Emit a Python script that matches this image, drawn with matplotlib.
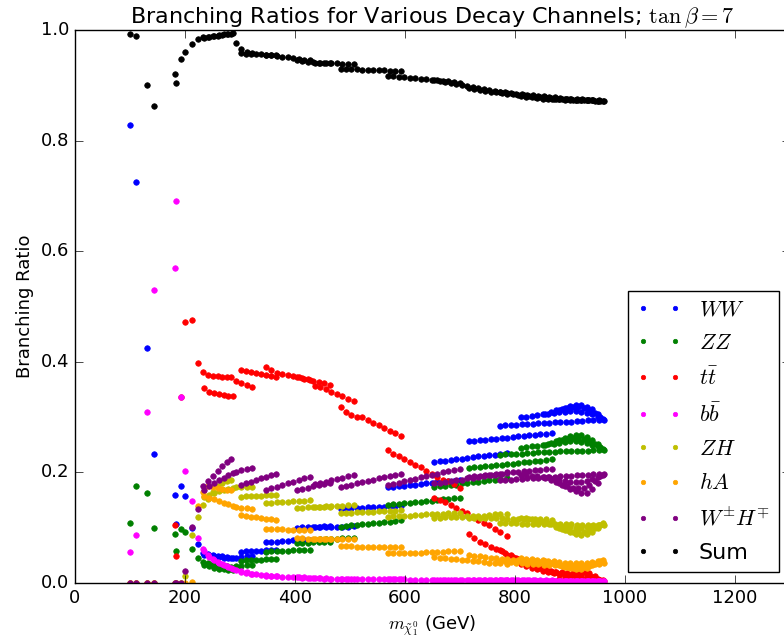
import matplotlib
matplotlib.use('Agg')
import matplotlib.pyplot as plt

# neutralino mass scan, one entry per model point (grouped by scan line)
mass = [100, 110, 131, 144, 182, 183, 192, 200, 213, 224,
        233, 242, 251, 260, 268, 276, 284,
        235, 244, 253, 262, 270, 278, 287,
        292, 302, 312, 322,
        302, 311, 320, 329, 338, 347, 356, 365,
        347, 357, 367, 377, 387, 397, 407, 417, 427,
        403, 413, 423, 433, 443, 453, 463,
        437, 446, 456, 466, 476, 486, 496, 507,
        483, 492, 502, 512, 522, 532, 542, 552, 562, 572, 582, 592,
        569, 579, 589, 599, 609, 619, 629, 639, 649, 659, 669, 679, 689, 700,
        653, 663, 673, 683, 693, 703, 713, 723, 733, 743, 753, 763, 773, 785,
        716, 726, 736, 746, 756, 766, 776, 786, 796, 806, 816, 826, 836, 846, 856, 868,
        772, 782, 792, 802, 812, 822, 832, 842, 852, 862, 872, 882, 892, 902, 912, 922, 932, 942, 952, 962,
        810, 820, 830, 840, 850, 860, 870, 880, 890, 900, 910, 920, 930, 940, 950, 960,
        855, 865, 875, 885, 895, 905, 915, 925, 935, 945, 955,
        880, 890, 900, 910, 920, 930, 940, 950]

br_ww = [0.828, 0.725, 0.425, 0.233, 0.160, 0.106, 0.175, 0.158, 0.100, 0.071,
         0.054, 0.052, 0.050, 0.049, 0.048, 0.047, 0.046,
         0.050, 0.049, 0.048, 0.047, 0.046, 0.045, 0.045,
         0.046, 0.047, 0.048, 0.049,
         0.056, 0.057, 0.057, 0.058, 0.058, 0.059, 0.059, 0.060,
         0.074, 0.075, 0.075, 0.076, 0.076, 0.077, 0.077, 0.078, 0.078,
         0.100, 0.101, 0.101, 0.102, 0.102, 0.103, 0.103,
         0.101, 0.102, 0.102, 0.102, 0.102, 0.102, 0.102, 0.103,
         0.134, 0.135, 0.135, 0.136, 0.136, 0.137, 0.137, 0.138, 0.138, 0.139, 0.139, 0.140,
         0.173, 0.174, 0.175, 0.176, 0.177, 0.178, 0.179, 0.180, 0.181, 0.182, 0.183, 0.184, 0.185, 0.186,
         0.219, 0.220, 0.221, 0.222, 0.224, 0.225, 0.226, 0.227, 0.229, 0.230, 0.231, 0.232, 0.234, 0.235,
         0.256, 0.257, 0.258, 0.259, 0.260, 0.261, 0.262, 0.263, 0.264, 0.265, 0.266, 0.267, 0.268, 0.269, 0.270, 0.272,
         0.284, 0.285, 0.285, 0.286, 0.287, 0.287, 0.288, 0.289, 0.289, 0.290, 0.291, 0.291, 0.292, 0.292, 0.293, 0.293, 0.294, 0.294, 0.295, 0.295,
         0.300, 0.301, 0.302, 0.303, 0.305, 0.306, 0.308, 0.309, 0.310, 0.311, 0.311, 0.310, 0.308, 0.305, 0.301, 0.297,
         0.306, 0.309, 0.312, 0.315, 0.317, 0.319, 0.319, 0.317, 0.313, 0.307, 0.300,
         0.312, 0.316, 0.320, 0.322, 0.322, 0.319, 0.314, 0.306]

br_zz = [0.108, 0.175, 0.163, 0.100, 0.088, 0.058, 0.098, 0.092, 0.061, 0.045,
         0.038, 0.036, 0.034, 0.032, 0.031, 0.030, 0.029,
         0.033, 0.030, 0.028, 0.026, 0.025, 0.024, 0.023,
         0.030, 0.031, 0.032, 0.033,
         0.040, 0.041, 0.041, 0.042, 0.042, 0.043, 0.043, 0.044,
         0.056, 0.057, 0.057, 0.058, 0.058, 0.059, 0.059, 0.060, 0.060,
         0.072, 0.073, 0.073, 0.074, 0.074, 0.075, 0.075,
         0.078, 0.079, 0.079, 0.080, 0.080, 0.081, 0.081, 0.082,
         0.102, 0.103, 0.104, 0.105, 0.106, 0.107, 0.108, 0.109, 0.110, 0.111, 0.112, 0.114,
         0.141, 0.142, 0.143, 0.144, 0.145, 0.146, 0.147, 0.148, 0.149, 0.150, 0.151, 0.152, 0.153, 0.154,
         0.174, 0.175, 0.176, 0.177, 0.178, 0.180, 0.181, 0.182, 0.183, 0.185, 0.186, 0.187, 0.188, 0.190,
         0.208, 0.209, 0.210, 0.211, 0.212, 0.213, 0.214, 0.215, 0.216, 0.217, 0.218, 0.219, 0.220, 0.221, 0.222, 0.224,
         0.232, 0.233, 0.233, 0.234, 0.234, 0.235, 0.235, 0.236, 0.236, 0.237, 0.237, 0.238, 0.238, 0.238, 0.239, 0.239, 0.239, 0.240, 0.240, 0.240,
         0.245, 0.246, 0.247, 0.248, 0.250, 0.251, 0.252, 0.254, 0.255, 0.256, 0.256, 0.255, 0.253, 0.250, 0.247, 0.243,
         0.250, 0.253, 0.256, 0.259, 0.261, 0.263, 0.263, 0.261, 0.257, 0.252, 0.246,
         0.258, 0.262, 0.265, 0.267, 0.267, 0.264, 0.259, 0.252]

br_tt = [0.0, 0.0, 0.0, 0.0, 0.104, 0.049, 0.336, 0.472, 0.476, 0.398,
         0.381, 0.376, 0.375, 0.374, 0.373, 0.373, 0.372,
         0.352, 0.345, 0.343, 0.341, 0.340, 0.339, 0.338,
         0.365, 0.362, 0.358, 0.355,
         0.385, 0.383, 0.381, 0.380, 0.378, 0.377, 0.375, 0.373,
         0.390, 0.385, 0.380, 0.378, 0.376, 0.375, 0.373, 0.369, 0.367,
         0.372, 0.370, 0.368, 0.366, 0.364, 0.361, 0.358,
         0.357, 0.354, 0.350, 0.346, 0.342, 0.338, 0.333, 0.329,
         0.318, 0.309, 0.304, 0.301, 0.300, 0.295, 0.290, 0.286, 0.280, 0.275, 0.271, 0.266,
         0.240, 0.234, 0.229, 0.224, 0.219, 0.214, 0.209, 0.203, 0.197, 0.191, 0.187, 0.184, 0.179, 0.172,
         0.154, 0.150, 0.146, 0.141, 0.135, 0.130, 0.126, 0.120, 0.114, 0.109, 0.104, 0.098, 0.092, 0.085,
         0.088, 0.081, 0.075, 0.071, 0.066, 0.062, 0.057, 0.051, 0.047, 0.043, 0.039, 0.035, 0.031, 0.027, 0.024, 0.020,
         0.060, 0.055, 0.050, 0.045, 0.040, 0.036, 0.032, 0.028, 0.025, 0.022, 0.019, 0.016, 0.014, 0.012, 0.010, 0.008, 0.007, 0.006, 0.005, 0.004,
         0.034, 0.031, 0.028, 0.025, 0.022, 0.020, 0.018, 0.016, 0.015, 0.014, 0.013, 0.012, 0.011, 0.010, 0.008, 0.006,
         0.025, 0.022, 0.020, 0.019, 0.018, 0.018, 0.019, 0.020, 0.018, 0.012, 0.006,
         0.008, 0.010, 0.013, 0.016, 0.018, 0.016, 0.010, 0.004]

br_bb = [0.056, 0.087, 0.310, 0.530, 0.569, 0.690, 0.337, 0.202, 0.148, 0.082,
         0.061, 0.050, 0.043, 0.038, 0.034, 0.031, 0.028,
         0.058, 0.047, 0.041, 0.036, 0.032, 0.029, 0.026,
         0.024, 0.021, 0.019, 0.017,
         0.020, 0.018, 0.017, 0.016, 0.015, 0.014, 0.013, 0.013,
         0.013, 0.012, 0.012, 0.011, 0.011, 0.010, 0.010, 0.010, 0.009,
         0.010, 0.009, 0.009, 0.009, 0.009, 0.008, 0.008,
         0.009, 0.009, 0.009, 0.008, 0.008, 0.008, 0.008, 0.008,
         0.008, 0.008, 0.008, 0.008, 0.007, 0.007, 0.007, 0.007, 0.007, 0.007, 0.007, 0.007,
         0.007, 0.007, 0.007, 0.007, 0.006, 0.006, 0.006, 0.006, 0.006, 0.006, 0.006, 0.006, 0.006, 0.006,
         0.006, 0.006, 0.006, 0.006, 0.006, 0.006, 0.005, 0.005, 0.005, 0.005, 0.005, 0.005, 0.005, 0.005,
         0.005, 0.005, 0.005, 0.005, 0.005, 0.005, 0.005, 0.005, 0.005, 0.005, 0.005, 0.005, 0.005, 0.005, 0.005, 0.005,
         0.005, 0.005, 0.005, 0.005, 0.005, 0.005, 0.005, 0.004, 0.004, 0.004, 0.004, 0.004, 0.004, 0.004, 0.004, 0.004, 0.004, 0.004, 0.004, 0.004,
         0.004, 0.004, 0.004, 0.004, 0.004, 0.004, 0.004, 0.004, 0.004, 0.004, 0.004, 0.004, 0.004, 0.004, 0.004, 0.004,
         0.004, 0.004, 0.004, 0.004, 0.004, 0.004, 0.004, 0.004, 0.004, 0.004, 0.004,
         0.004, 0.004, 0.004, 0.004, 0.004, 0.004, 0.004, 0.004]

br_zh = [0.0, 0.0, 0.0, 0.0, 0.0, 0.0, 0.0, 0.013, 0.087, 0.120,
         0.141, 0.151, 0.165, 0.175, 0.180, 0.184, 0.187,
         0.155, 0.160, 0.163, 0.166, 0.168, 0.170, 0.172,
         0.173, 0.173, 0.174, 0.174,
         0.156, 0.157, 0.157, 0.158, 0.158, 0.159, 0.159, 0.160,
         0.144, 0.145, 0.146, 0.146, 0.147, 0.148, 0.148, 0.149, 0.150,
         0.136, 0.136, 0.137, 0.137, 0.137, 0.138, 0.138,
         0.138, 0.138, 0.139, 0.139, 0.140, 0.140, 0.141, 0.141,
         0.126, 0.127, 0.127, 0.128, 0.128, 0.129, 0.129, 0.130, 0.130, 0.131, 0.131, 0.132,
         0.120, 0.121, 0.121, 0.122, 0.122, 0.123, 0.123, 0.124, 0.124, 0.125, 0.125, 0.126, 0.126, 0.127,
         0.118, 0.118, 0.119, 0.119, 0.120, 0.120, 0.121, 0.121, 0.122, 0.122, 0.123, 0.124, 0.124, 0.125,
         0.118, 0.118, 0.118, 0.117, 0.117, 0.117, 0.117, 0.116, 0.116, 0.116, 0.116, 0.115, 0.115, 0.115, 0.115, 0.114,
         0.108, 0.108, 0.108, 0.108, 0.107, 0.107, 0.107, 0.107, 0.107, 0.106, 0.106, 0.106, 0.106, 0.106, 0.105, 0.105, 0.105, 0.105, 0.105, 0.105,
         0.118, 0.117, 0.115, 0.113, 0.111, 0.109, 0.107, 0.105, 0.103, 0.101, 0.100, 0.100, 0.101, 0.103, 0.105, 0.108,
         0.110, 0.106, 0.102, 0.098, 0.095, 0.093, 0.092, 0.093, 0.096, 0.100, 0.105,
         0.100, 0.096, 0.092, 0.089, 0.087, 0.088, 0.093, 0.100]

br_ha = [0.0, 0.0, 0.0, 0.0, 0.0, 0.0, 0.0, 0.0, 0.002, 0.139,
         0.165, 0.176, 0.174, 0.172, 0.170, 0.169, 0.168,
         0.157, 0.154, 0.151, 0.148, 0.145, 0.142, 0.139,
         0.138, 0.136, 0.135, 0.133,
         0.123, 0.122, 0.120, 0.119, 0.118, 0.116, 0.115, 0.114,
         0.098, 0.098, 0.097, 0.097, 0.096, 0.096, 0.096, 0.095, 0.095,
         0.081, 0.081, 0.080, 0.080, 0.080, 0.079, 0.079,
         0.079, 0.079, 0.079, 0.079, 0.079, 0.079, 0.079, 0.079,
         0.067, 0.067, 0.067, 0.066, 0.066, 0.066, 0.066, 0.066, 0.066, 0.066, 0.065, 0.065,
         0.054, 0.054, 0.054, 0.055, 0.055, 0.055, 0.055, 0.056, 0.056, 0.056, 0.056, 0.057, 0.057, 0.057,
         0.047, 0.046, 0.045, 0.044, 0.043, 0.042, 0.041, 0.040, 0.039, 0.038, 0.037, 0.037, 0.036, 0.035,
         0.050, 0.049, 0.048, 0.047, 0.046, 0.045, 0.044, 0.043, 0.042, 0.041, 0.040, 0.040, 0.039, 0.038, 0.038, 0.037,
         0.040, 0.039, 0.038, 0.037, 0.036, 0.035, 0.034, 0.034, 0.033, 0.033, 0.032, 0.032, 0.032, 0.032, 0.032, 0.033, 0.033, 0.034, 0.035, 0.036,
         0.045, 0.044, 0.043, 0.042, 0.041, 0.040, 0.039, 0.038, 0.037, 0.036, 0.036, 0.036, 0.037, 0.038, 0.040, 0.042,
         0.040, 0.037, 0.034, 0.031, 0.029, 0.028, 0.028, 0.029, 0.031, 0.035, 0.040,
         0.032, 0.029, 0.027, 0.026, 0.026, 0.028, 0.032, 0.038]

br_wh = [0.0, 0.0, 0.0, 0.0, 0.0, 0.0, 0.0, 0.022, 0.102, 0.134,
         0.175, 0.184, 0.193, 0.203, 0.212, 0.219, 0.225,
         0.168, 0.176, 0.181, 0.186, 0.190, 0.195, 0.199,
         0.201, 0.204, 0.206, 0.208,
         0.177, 0.180, 0.183, 0.186, 0.189, 0.192, 0.195, 0.198,
         0.168, 0.171, 0.174, 0.177, 0.180, 0.183, 0.186, 0.189, 0.192,
         0.168, 0.170, 0.172, 0.175, 0.177, 0.179, 0.181,
         0.179, 0.181, 0.183, 0.186, 0.188, 0.190, 0.193, 0.195,
         0.173, 0.175, 0.177, 0.180, 0.182, 0.184, 0.186, 0.189, 0.191, 0.193, 0.196, 0.198,
         0.177, 0.179, 0.181, 0.184, 0.186, 0.188, 0.191, 0.193, 0.195, 0.198, 0.200, 0.202, 0.205, 0.207,
         0.180, 0.181, 0.183, 0.184, 0.186, 0.187, 0.189, 0.190, 0.192, 0.193, 0.195, 0.196, 0.198, 0.200,
         0.192, 0.193, 0.194, 0.195, 0.196, 0.197, 0.198, 0.199, 0.200, 0.201, 0.202, 0.203, 0.204, 0.205, 0.206, 0.207,
         0.186, 0.187, 0.187, 0.188, 0.188, 0.189, 0.190, 0.190, 0.191, 0.192, 0.192, 0.193, 0.194, 0.194, 0.195, 0.196, 0.196, 0.197, 0.197, 0.198,
         0.195, 0.195, 0.194, 0.193, 0.192, 0.191, 0.189, 0.187, 0.185, 0.183, 0.182, 0.183, 0.185, 0.188, 0.192, 0.196,
         0.190, 0.186, 0.182, 0.178, 0.175, 0.172, 0.171, 0.172, 0.177, 0.185, 0.193,
         0.180, 0.175, 0.170, 0.166, 0.163, 0.163, 0.170, 0.180]

br_sum = [0.993, 0.989, 0.900, 0.863, 0.920, 0.905, 0.947, 0.961, 0.974, 0.984,
          0.987, 0.988, 0.990, 0.990, 0.991, 0.992, 0.993,
          0.985, 0.987, 0.989, 0.991, 0.992, 0.993, 0.995,
          0.976, 0.965, 0.960, 0.958,
          0.958, 0.957, 0.957, 0.956, 0.956, 0.955, 0.955, 0.954,
          0.955, 0.954, 0.953, 0.952, 0.951, 0.950, 0.948, 0.946, 0.945,
          0.945, 0.944, 0.943, 0.942, 0.941, 0.940, 0.940,
          0.941, 0.940, 0.940, 0.940, 0.940, 0.939, 0.939, 0.938,
          0.930, 0.929, 0.929, 0.929, 0.928, 0.928, 0.928, 0.927, 0.927, 0.926, 0.926, 0.926,
          0.917, 0.916, 0.915, 0.915, 0.914, 0.913, 0.912, 0.911, 0.910, 0.909, 0.908, 0.907, 0.906, 0.905,
          0.910, 0.908, 0.906, 0.905, 0.903, 0.901, 0.899, 0.897, 0.895, 0.893, 0.891, 0.889, 0.888, 0.886,
          0.895, 0.893, 0.891, 0.890, 0.888, 0.887, 0.886, 0.885, 0.884, 0.883, 0.882, 0.880, 0.879, 0.878, 0.877, 0.876,
          0.888, 0.887, 0.886, 0.885, 0.884, 0.883, 0.882, 0.881, 0.880, 0.879, 0.878, 0.877, 0.876, 0.876, 0.875, 0.875, 0.874, 0.874, 0.873, 0.872,
          0.880, 0.879, 0.878, 0.877, 0.876, 0.876, 0.875, 0.875, 0.874, 0.874, 0.874, 0.873, 0.873, 0.873, 0.872, 0.872,
          0.878, 0.877, 0.876, 0.875, 0.875, 0.874, 0.874, 0.873, 0.873, 0.872, 0.872,
          0.876, 0.875, 0.875, 0.874, 0.874, 0.873, 0.873, 0.872]

channels = [(br_ww, 'b', r'$WW$'),
            (br_zz, 'g', r'$ZZ$'),
            (br_tt, 'r', r'$t\bar{t}$'),
            (br_bb, '#ff00ff', r'$b\bar{b}$'),
            (br_zh, 'y', r'$ZH$'),
            (br_ha, 'orange', r'$hA$'),
            (br_wh, 'purple', r'$W^{\pm}H^{\mp}$'),
            (br_sum, 'k', 'Sum')]

plt.style.use('classic')
plt.rcParams['mathtext.fontset'] = 'cm'

fig = plt.figure(figsize=(7.84, 6.44), dpi=100, facecolor='white')
ax = fig.add_axes([75/784, 61/644, 715/784, 553/644])

for vals, col, lab in channels:
    ax.plot(mass, vals, 'o', color=col, mec=col, ms=4, label=lab)

ax.set_xlim(0, 1300)
ax.set_ylim(0, 1.0)
ax.set_xticks([0, 200, 400, 600, 800, 1000, 1200])
ax.set_yticks([0.0, 0.2, 0.4, 0.6, 0.8, 1.0])
ax.tick_params(labelsize=13, length=6)

ax.set_title(r'Branching Ratios for Various Decay Channels; $\tan\beta=7$', fontsize=16)
ax.set_xlabel(r'$m_{\tilde{\chi}_1^0}$ (GeV)', fontsize=13)
ax.set_ylabel('Branching Ratio', fontsize=13)

ax.legend(loc='lower right', bbox_to_anchor=(779/784, 72/644),
          bbox_transform=fig.transFigure, borderaxespad=0,
          numpoints=2, fontsize=16, markerscale=0.8, labelspacing=0.6)

fig.savefig('out.png', dpi=100, facecolor='white')
